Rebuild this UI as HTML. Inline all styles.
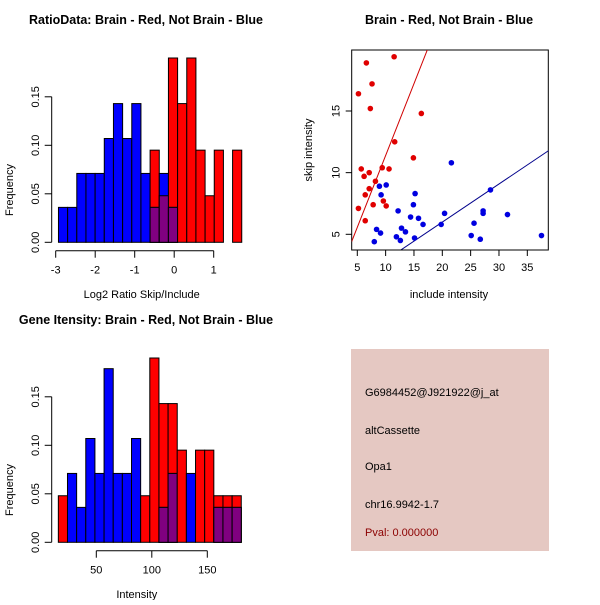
<!DOCTYPE html>
<html><head><meta charset="utf-8"><style>
body{margin:0;background:#fff;width:600px;height:600px;overflow:hidden}
svg{font-family:"Liberation Sans",sans-serif}
</style></head><body>
<svg id="s" width="600" height="600" xmlns="http://www.w3.org/2000/svg">
<rect x="0" y="0" width="600" height="600" fill="#fff"/>
<g id="tl"></g>
<g id="tr"></g>
<g id="bl"></g>
<g>
<rect x="351" y="349" width="198" height="202" fill="#e5c8c2"/>
<text x="365" y="396" font-size="11" fill="#000">G6984452@J921922@j_at</text>
<text x="365" y="434" font-size="11" fill="#000">altCassette</text>
<text x="365" y="470" font-size="11" fill="#000">Opa1</text>
<text x="365" y="508" font-size="11" fill="#000">chr16.9942-1.7</text>
<text x="365" y="536" font-size="11" fill="#8b0000">Pval: 0.000000</text>
</g>
</svg>
<script>
// Ratio histogram data (20 bins from -2.93 to 1.71)
const ratioStart = -2.93;
const ratioBinWidth = 0.232;
const ratioBlue = [0.036,0.036,0.071,0.071,0.071,0.107,0.143,0.107,0.143,0.071,0.036,0.071,0.036,0,0,0,0,0,0,0];
const ratioRed  = [0,0,0,0,0,0,0,0,0,0,0.095,0.048,0.19,0.143,0.19,0.095,0.048,0.095,0,0.095];
const ratioXTicks = [-3,-2,-1,0,1];
// Gene intensity histogram data (20 bins from 15.8 to 180.6)
const intStart = 15.8;
const intBinWidth = 8.24;
const intBlue = [0,0.071,0.036,0.107,0.071,0.179,0.071,0.071,0.107,0,0,0.036,0.071,0,0.071,0,0,0.036,0.036,0.036];
const intRed  = [0.048,0,0,0,0,0,0,0,0,0.048,0.19,0.143,0.143,0.095,0,0.095,0.095,0.048,0.048,0.048];
const intXTicks = [50,100,150];
const freqTicks = [0,0.05,0.10,0.15];
const freqLabels = ["0.00","0.05","0.10","0.15"];
// Scatter data
const redInc  = [5.2,6.6,7.6,11.5,7.3,16.3,11.6,14.9,5.7,6.2,7.1,9.4,10.6,7.1,8.2,6.4,7.8,9.6,10.1,5.2,6.4];
const redSkip = [16.4,18.9,17.2,19.4,15.2,14.8,12.5,11.2,10.3,9.7,10.0,10.4,10.3,8.7,9.3,8.2,7.4,7.7,7.3,7.1,6.1];
const blueInc  = [8.9,10.1,9.2,8.4,9.1,8.0,12.2,12.8,13.5,11.9,12.6,14.9,15.2,14.4,15.8,16.6,15.1,21.6,20.4,19.8,28.5,27.2,27.2,25.6,25.1,26.7,31.5,37.5];
const blueSkip = [8.9,9.0,8.2,5.4,5.1,4.4,6.9,5.5,5.2,4.8,4.5,7.4,8.3,6.4,6.3,5.8,4.7,10.8,6.7,5.8,8.6,6.9,6.7,5.9,4.9,4.6,6.6,4.9];
const redFit = [-0.26,1.165];   // intercept, slope
const blueFit = [-0.19,0.309];
const scXTicks = [5,10,15,20,25,30,35];
const scYTicks = [5,10,15];

const NS="http://www.w3.org/2000/svg";
function el(parent,tag,attrs){const e=document.createElementNS(NS,tag);for(const k in attrs)e.setAttribute(k,attrs[k]);parent.appendChild(e);return e;}
function txt(parent,x,y,s,size,extra){const t=el(parent,'text',Object.assign({x:x,y:y,'font-size':size,'text-anchor':'middle'},extra||{}));t.textContent=s;return t;}

function histogram(g,oy,start,bw,blue,red,xticks,xLabelFn,axisStart,axisEnd,title,xlab){
  const y0=oy+202.3, py=48.5/0.05;
  const yS=v=>y0-v*py;
  let xS;
  if(g.id==='tl'){xS=v=>55.7+(v+3)*39.5;} else {xS=v=>96.3+(v-50)*1.11;}
  for(let i=0;i<blue.length;i++){
    const a=xS(start+i*bw), b=xS(start+(i+1)*bw);
    const r=red[i], bl=blue[i], m=Math.min(r,bl);
    if(r>0){const e=el(g,'rect',{x:a,y:yS(r),width:b-a,height:yS(0)-yS(r),fill:'#ff0000',stroke:'#000','stroke-width':1});
      
      }
    if(bl>0){const e=el(g,'rect',{x:a,y:yS(bl),width:b-a,height:yS(0)-yS(bl),fill:'#0000ff',stroke:'#000','stroke-width':1});
      
      }
    if(m>0){const e=el(g,'rect',{x:a,y:yS(m),width:b-a,height:yS(0)-yS(m),fill:'#800080',stroke:'#000','stroke-width':1});
      
      }
  }
  const yax=el(g,'g',{});
  
  
  el(yax,'line',{x1:51.7,x2:51.7,y1:yS(0),y2:yS(0.15),stroke:'#000'});
  freqTicks.forEach((v,i)=>{el(yax,'line',{x1:44.7,x2:51.7,y1:yS(v),y2:yS(v),stroke:'#000'});
    txt(yax,36,yS(v),freqLabels[i],11,{transform:`rotate(-90 36 ${yS(v)})`,'dominant-baseline':'central'});});
  const yt=txt(g,10,oy+150,'Frequency',11,{transform:`rotate(-90 10 ${oy+150})`,'dominant-baseline':'central'});
  
  
  const xax=el(g,'g',{});
  
  
  const ya=oy+210.7;
  el(xax,'line',{x1:xS(axisStart),x2:xS(axisEnd),y1:ya,y2:ya,stroke:'#000'});
  xticks.forEach(v=>{el(xax,'line',{x1:xS(v),x2:xS(v),y1:ya,y2:ya+7,stroke:'#000'});
    txt(xax,xS(v),ya+23,xLabelFn(v),11);});
  const xt=txt(g,xS((axisStart+axisEnd)/2)+ (g.id==='tl'?7:-15),oy+258,xlab,11);
  
  
  const tt=txt(g,146,oy-16,title,12.5,{'font-weight':'bold'});
  
  
}
histogram(document.getElementById('tl'),40,ratioStart,ratioBinWidth,ratioBlue,ratioRed,ratioXTicks,v=>String(v),-3,1,'RatioData: Brain - Red, Not Brain - Blue','Log2 Ratio Skip/Include');
histogram(document.getElementById('bl'),340,intStart,intBinWidth,intBlue,intRed,intXTicks,v=>String(v),50,150,'Gene Itensity: Brain - Red, Not Brain - Blue','Intensity');

(function(){
  const g=document.getElementById('tr');
  const xS=v=>357.3+(v-5)*5.667, yS=v=>234.3-(v-5)*12.33;
  const L=351.7,R=548.3,T=50,B=250;
  const cp=el(g,'clipPath',{id:'cp'});el(cp,'rect',{x:L,y:T,width:R-L,height:B-T});
  const box=el(g,'rect',{x:L,y:T,width:R-L,height:B-T,fill:'none',stroke:'#000'});
  
  
  const x0=4,x1=39;
  const rl=el(g,'line',{x1:xS(x0),y1:yS(redFit[0]+redFit[1]*x0),x2:xS(x1),y2:yS(redFit[0]+redFit[1]*x1),stroke:'#d00000','clip-path':'url(#cp)'});
  
  
  const bl=el(g,'line',{x1:xS(x0),y1:yS(blueFit[0]+blueFit[1]*x0),x2:xS(x1),y2:yS(blueFit[0]+blueFit[1]*x1),stroke:'#00008b','clip-path':'url(#cp)'});
  
  
  redInc.forEach((v,i)=>{const c=el(g,'circle',{cx:xS(v),cy:yS(redSkip[i]),r:2.8,fill:'#e00000'});
    
    });
  blueInc.forEach((v,i)=>{const c=el(g,'circle',{cx:xS(v),cy:yS(blueSkip[i]),r:2.8,fill:'#0000e0'});
    
    });
  const xa=el(g,'g',{});
  
  
  el(xa,'line',{x1:xS(5),x2:xS(35),y1:B,y2:B,stroke:'#000'});
  scXTicks.forEach(v=>{el(xa,'line',{x1:xS(v),x2:xS(v),y1:B,y2:B+6,stroke:'#000'});txt(xa,xS(v),B+21,String(v),11);});
  const ya=el(g,'g',{});
  
  
  scYTicks.forEach(v=>{el(ya,'line',{x1:L-6,x2:L,y1:yS(v),y2:yS(v),stroke:'#000'});
    txt(ya,L-15,yS(v),String(v),11,{transform:`rotate(-90 ${L-15} ${yS(v)})`,'dominant-baseline':'central'});});
  const xt=txt(g,449,298,'include intensity',11);
  
  
  const yt=txt(g,309,150,'skip intensity',11,{transform:'rotate(-90 309 150)','dominant-baseline':'central'});
  
  
  const tt=txt(g,449,24,'Brain - Red, Not Brain - Blue',12.5,{'font-weight':'bold'});
  
  
})();
</script>
</body></html>
